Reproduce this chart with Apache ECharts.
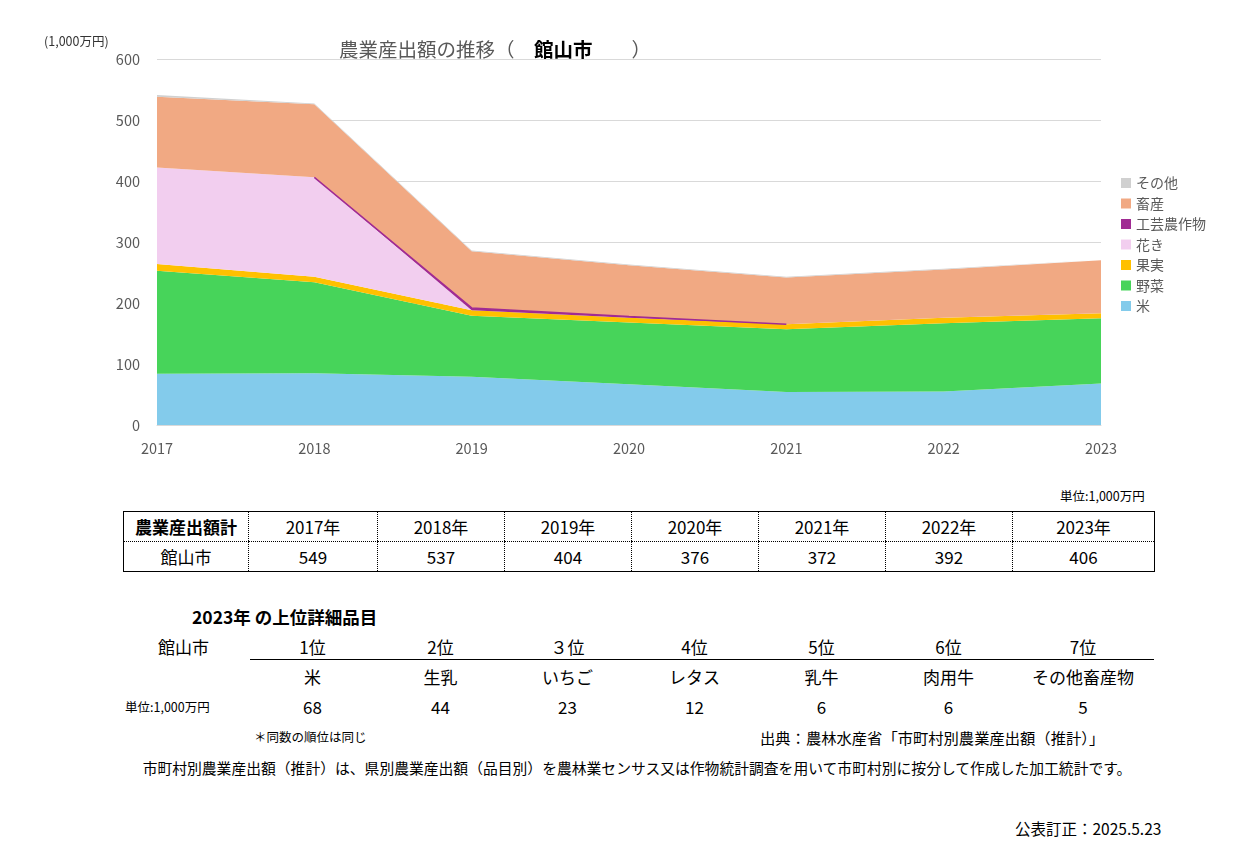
<!DOCTYPE html>
<html>
<head>
<meta charset="utf-8">
<script src="https://cdn.jsdelivr.net/npm/echarts@6/dist/echarts.min.js"></script>
<style>
  body { margin: 0; background: #fff; font-family: "Noto Sans CJK JP", sans-serif; }
  #page { position: relative; width: 1240px; height: 841px; overflow: hidden; }
  #chart { position: absolute; left: 0; top: 0; width: 1240px; height: 480px; }
  .abs { position: absolute; white-space: nowrap; color: #000; }
  .c { transform: translateX(-50%); text-align: center; }
  table.total { position: absolute; left: 123px; top: 511px; border-collapse: collapse; border: 1px solid #000; table-layout: fixed; }
  table.total td { height: 29px; padding: 0; text-align: center; font-size: 17px; border-left: 1px dotted #000; }
  table.total tr:first-child td { border-bottom: 1px dotted #000; }
  table.total td:first-child { border-left: none; }
</style>
</head>
<body>
<div id="page">
  <div id="chart"></div>
  <div class="abs" style="left:1060px;top:486px;font-size:12.5px;">単位:1,000万円</div>
  <table class="total" id="totalTable"></table>
  <div class="abs" style="left:192px;top:604px;font-size:17.5px;font-weight:bold;">2023年 の上位詳細品目</div>
  <div class="abs" style="left:158px;top:634px;font-size:17px;">館山市</div>
  <div class="abs" style="left:250px;top:659px;width:904px;border-top:1.5px solid #000;"></div>
  <div class="abs" style="left:125px;top:697px;font-size:12.5px;">単位:1,000万円</div>
  <div id="ranks"></div>
  <div class="abs" style="left:254px;top:727px;font-size:12.5px;">＊同数の順位は同じ</div>
  <div class="abs" style="left:760px;top:726px;font-size:15.3px;">出典：農林水産省「市町村別農業産出額（推計）」</div>
  <div class="abs c" style="left:637px;top:757px;font-size:14.8px;">市町村別農業産出額（推計）は、県別農業産出額（品目別）を農林業センサス又は作物統計調査を用いて市町村別に按分して作成した加工統計です。</div>
  <div class="abs" style="left:1015px;top:817px;font-size:15.5px;">公表訂正：2025.5.23</div>
</div>
<script>
// 年
const years = ['2017', '2018', '2019', '2020', '2021', '2022', '2023']
// 品目別産出額（グラフ読み取り値）
const kome = [84, 85, 79, 67, 54, 55, 68]
const yasai = [169, 149, 100, 101, 103, 112, 107]
const kajitsu = [11, 9, 9, 8, 8, 9, 8]
const kaki = [158, 163, 0, 0, 0, 0, 0]
const kougei = [null, 0, 4, 2, 0, null, null]
const chikusan = [116, 120, 93, 84, 77, 79, 87]
const sonota = [3, 1, 1, 1, 1, 1, 1]
const yTicks = [0, 100, 200, 300, 400, 500, 600]

// 農業産出額計
const totalHeader = ['農業産出額計', '2017年', '2018年', '2019年', '2020年', '2021年', '2022年', '2023年']
const totalRow = ['館山市', 549, 537, 404, 376, 372, 392, 406]

// 2023年 上位品目
const rankLabels = ['1位', '2位', '３位', '4位', '5位', '6位', '7位']
const rankItems = ['米', '生乳', 'いちご', 'レタス', '乳牛', '肉用牛', 'その他畜産物']
const rankValues = [68, 44, 23, 12, 6, 6, 5]

const colWidths = [125, 129, 127, 127, 127, 127, 127, 142]

// table
const tbl = document.getElementById('totalTable')
let cg = '<colgroup>' + colWidths.map(w => `<col style="width:${w}px">`).join('') + '</colgroup>'
let h = '<tr>' + totalHeader.map((t, i) => `<td${i === 0 ? ' style="font-weight:bold"' : ''}>${t}</td>`).join('') + '</tr>'
let r = '<tr>' + totalRow.map(t => `<td>${t}</td>`).join('') + '</tr>'
tbl.innerHTML = cg + h + r

// ranks
let x = 123 + colWidths[0]
let html = ''
rankLabels.forEach((lab, i) => {
  const cx = x + colWidths[i + 1] / 2
  html += `<div class="abs c" style="left:${cx}px;top:634px;font-size:17px;">${lab}</div>`
  html += `<div class="abs c" style="left:${cx}px;top:664px;font-size:17px;">${rankItems[i]}</div>`
  html += `<div class="abs c" style="left:${cx}px;top:694px;font-size:17px;">${rankValues[i]}</div>`
  x += colWidths[i + 1]
})
document.getElementById('ranks').innerHTML = html

const myChart = echarts.init(document.getElementById('chart'))

const mk = (name, data, color, lw) => ({
  name,
  type: 'line',
  stack: 'total',
  data,
  symbol: 'none',
  lineStyle: {width: lw || 0, color},
  itemStyle: {color},
  areaStyle: {color, opacity: 1}
})

myChart.setOption({
  animation: false,
  textStyle: {fontFamily: 'Noto Sans CJK JP'},
  title: [
    {
      text: '{a|農業産出額の推移（}{b|　館山市　　}{a|）}',
      left: 334,
      top: 35,
      textStyle: {
        fontWeight: 'normal',
        rich: {
          a: {fontSize: 19.5, color: '#595959', fontWeight: 'normal', fontFamily: 'Noto Sans CJK JP'},
          b: {fontSize: 19.5, color: '#000', fontWeight: 'bold', fontFamily: 'Noto Sans CJK JP'}
        }
      }
    },
    {
      text: '(1,000万円)',
      left: 39,
      top: 30,
      textStyle: {fontSize: 12.5, color: '#333', fontWeight: 'normal', fontFamily: 'Noto Sans CJK JP'}
    }
  ],
  legend: {
    orient: 'vertical',
    left: 1116,
    top: 171,
    itemWidth: 10,
    itemHeight: 10,
    itemGap: 6.5,
    icon: 'rect',
    textStyle: {fontSize: 14, color: '#595959'},
    data: ['その他', '畜産', '工芸農作物', '花き', '果実', '野菜', '米']
  },
  grid: {left: 157, right: 139, top: 59, bottom: 55},
  xAxis: {
    type: 'category',
    boundaryGap: false,
    data: years,
    axisLine: {lineStyle: {color: '#d9d9d9'}},
    axisTick: {show: false},
    axisLabel: {color: '#595959', fontSize: 14.5, margin: 16}
  },
  yAxis: {
    type: 'value',
    min: yTicks[0],
    max: yTicks[yTicks.length - 1],
    interval: 100,
    axisLabel: {color: '#595959', fontSize: 14.5, margin: 17},
    splitLine: {lineStyle: {color: '#d9d9d9'}}
  },
  series: [
    mk('米', kome, '#83cbeb'),
    mk('野菜', yasai, '#47d45a'),
    mk('果実', kajitsu, '#ffc000'),
    mk('花き', kaki, '#f2ceef'),
    mk('工芸農作物', kougei, '#a02b93', 1.5),
    mk('畜産', chikusan, '#f1a983'),
    mk('その他', sonota, '#d0d0d0')
  ]
})
</script>
</body>
</html>
